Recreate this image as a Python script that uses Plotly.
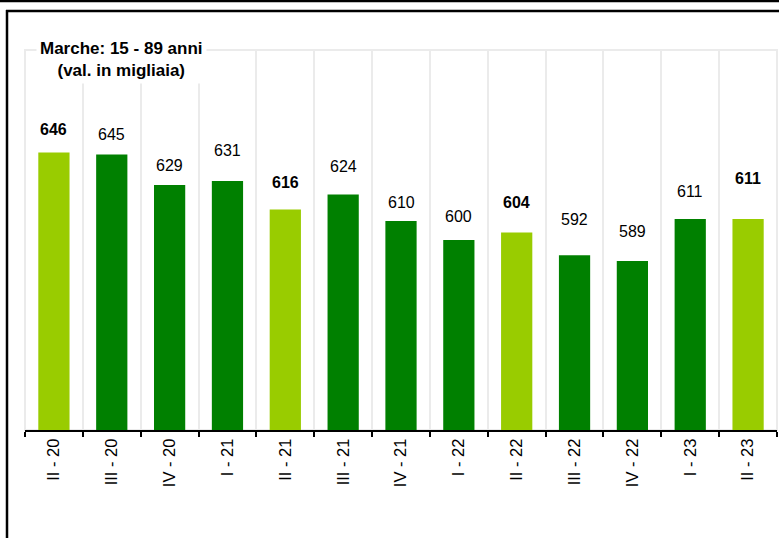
import plotly.graph_objects as go

categories = ["II - 20", "III - 20", "IV - 20", "I - 21", "II - 21", "III - 21", "IV - 21",
              "I - 22", "II - 22", "III - 22", "IV - 22", "I - 23", "II - 23"]
values = [646, 645, 629, 631, 616, 624, 610, 600, 604, 592, 589, 611, 611]
# pixel lift of each value label above its bar top (labels were hand-placed)
label_lift = [23, 20, 19, 31, 27, 28, 19, 24, 30, 36, 29, 28, 41]

title_text = "<b>Marche: 15 - 89 anni<br>(val. in migliaia)</b>"

LIGHT = "#99CC00"
DARK = "#008000"
FONT = "Arial, Liberation Sans, sans-serif"

highlight = [c.startswith("II ") for c in categories]
colors = [LIGHT if h else DARK for h in highlight]

fig = go.Figure()
fig.add_trace(go.Bar(
    x=categories, y=values,
    marker=dict(color=colors, line=dict(width=0)),
    hoverinfo="x+y",
))

for c, v, h, lift in zip(categories, values, highlight, label_lift):
    fig.add_annotation(
        x=c, y=v, xref="x", yref="y",
        text=f"<b>{v}</b>" if h else str(v),
        showarrow=False, yanchor="middle", yshift=lift,
        font=dict(family=FONT, size=16, color="black"),
    )

# chart title box (white background over the plot frame)
fig.add_annotation(
    xref="paper", yref="paper", x=0.1277, y=0.975,
    xanchor="center", yanchor="middle",
    text=title_text, showarrow=False, align="center",
    font=dict(family=FONT, size=17, color="black"),
    bgcolor="white", borderpad=3,
)

W, H = 779, 538
ml, mr, mt, mb = 25, 2, 50, 108
pw, ph = W - ml - mr, H - mt - mb

def px_x(px):
    return (px - ml) / pw

def px_y(py):
    return (H - mb - py) / ph

shapes = [
    dict(type="line", xref="paper", yref="paper", x0=px_x(0), x1=px_x(W), y0=px_y(1), y1=px_y(1),
         line=dict(color="black", width=2.5)),
    dict(type="line", xref="paper", yref="paper", x0=px_x(6), x1=px_x(W), y0=px_y(11), y1=px_y(11),
         line=dict(color="black", width=2.5)),
    dict(type="line", xref="paper", yref="paper", x0=px_x(7), x1=px_x(7), y0=px_y(10), y1=px_y(H + 2),
         line=dict(color="black", width=2.5)),
    # light plot frame
    dict(type="rect", xref="paper", yref="paper", x0=0, x1=1, y0=0, y1=1,
         line=dict(color="#EBEBEB", width=2), layer="below"),
]

fig.update_layout(
    width=W, height=H,
    margin=dict(l=ml, r=mr, t=mt, b=mb),
    paper_bgcolor="white", plot_bgcolor="white",
    bargap=0.46,
    showlegend=False,
    shapes=shapes,
    font=dict(family=FONT, color="black"),
    xaxis=dict(
        type="category", tickson="boundaries",
        showgrid=True, gridcolor="#EBEBEB", gridwidth=2,
        showline=True, linecolor="black", linewidth=2,
        ticks="outside", ticklen=5, tickwidth=2, tickcolor="black",
        tickangle=-90, tickfont=dict(family=FONT, size=16.5, color="black"),
        zeroline=False,
    ),
    yaxis=dict(
        range=[500, 700], visible=False, showgrid=False, zeroline=False,
    ),
)

fig.write_html(
    "out.html",
    config={"displayModeBar": False},
    post_script="document.body.style.margin='0';document.body.style.overflow='hidden';",
)
